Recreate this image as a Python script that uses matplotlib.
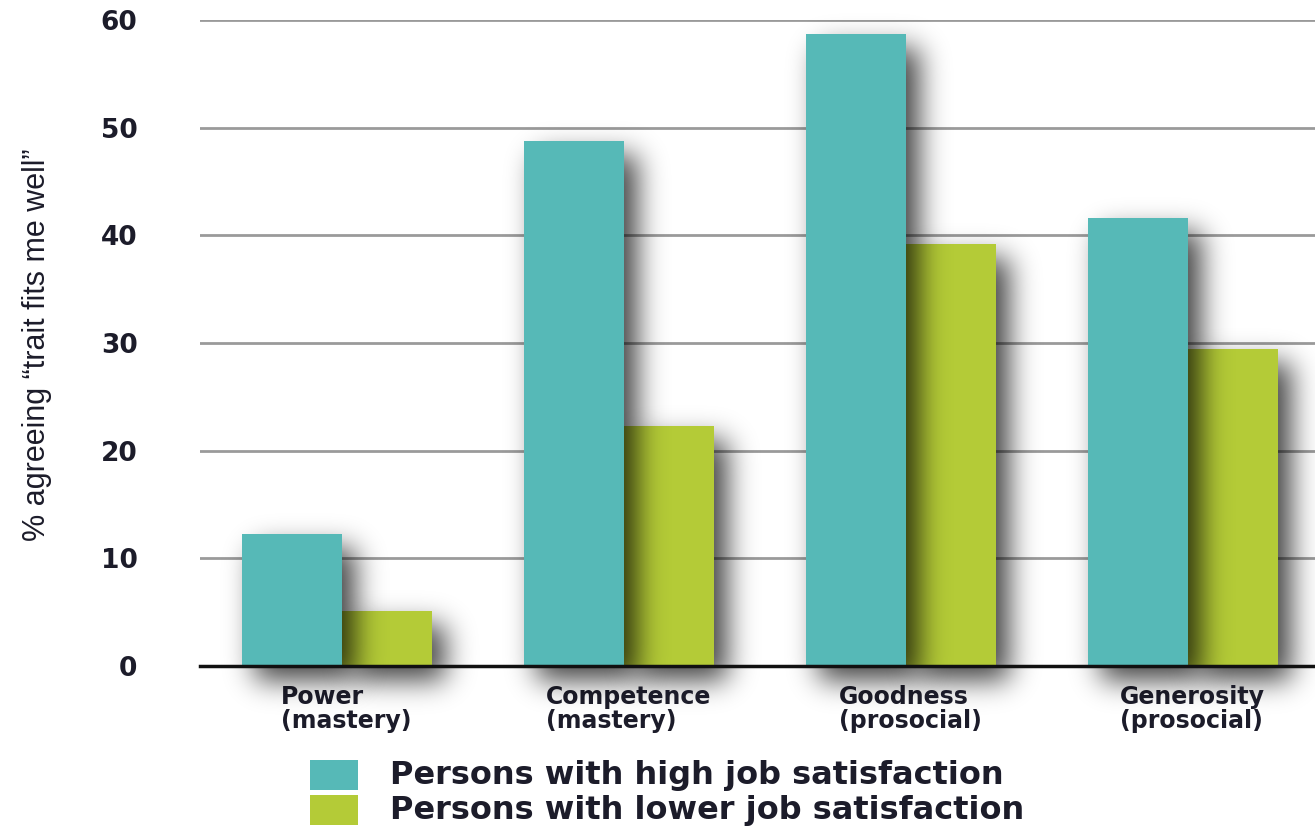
import numpy as np
import matplotlib
matplotlib.use("Agg")
import matplotlib.pyplot as plt
from matplotlib.patches import Rectangle

categories = ["Power\n(mastery)", "Competence\n(mastery)", "Goodness\n(prosocial)", "Generosity\n(prosocial)"]
high_sat = [12.3, 48.8, 58.7, 41.6]
low_sat = [5.1, 22.3, 39.2, 29.4]
series_names = ["Persons with high job satisfaction", "Persons with lower job satisfaction"]
yticks = [0, 10, 20, 30, 40, 50, 60]

TEAL = "#56B9B7"
GREEN = "#B4CB37"
TXT = "#1c1c2a"
colors = [TEAL, GREEN]

W, H = 1315, 827
fig = plt.figure(figsize=(W / 100, H / 100), dpi=100)
AX_L, AX_B, AX_T = 200, 666, 20
ax = fig.add_axes([AX_L / W, 1 - AX_B / H, 1 - AX_L / W, (AX_B - AX_T) / H])

x = np.arange(len(categories))
wt = 100 / 282
wg = 90 / 282
XLIM = (-42 / 282, (1315 - 242) / 282)
YLIM = (0, 60)
px = 1 / 282            # one pixel in x data units
py = 60 / (AX_B - AX_T)  # one pixel in y data units


def gauss_blur(a, sigma):
    r = int(3 * sigma)
    k = np.exp(-0.5 * (np.arange(-r, r + 1) / sigma) ** 2)
    k /= k.sum()
    a = np.apply_along_axis(lambda m: np.convolve(m, k, mode="same"), 1, a)
    a = np.apply_along_axis(lambda m: np.convolve(m, k, mode="same"), 0, a)
    return a


def shadow(xl, w, vals, z, dx=13, dy=14, sigma=14, strength=0.75):
    y0, y1 = -60 * py, YLIM[1] + 12 * py
    nx = int(round((XLIM[1] - XLIM[0]) / px))
    ny = int(round((y1 - y0) / py))
    xs = XLIM[0] + (np.arange(nx) + 0.5) * px
    ys = y0 + (np.arange(ny) + 0.5) * py
    X, Y = np.meshgrid(xs, ys)
    m = np.zeros_like(X)
    for l, v in zip(xl, vals):
        sel = (X >= l + dx * px) & (X <= l + w + dx * px) & (Y >= -dy * py) & (Y <= v - dy * py)
        m[sel] = 1.0
    m = gauss_blur(m, sigma)
    rgba = np.zeros((ny, nx, 4))
    rgba[..., 3] = np.clip(m * strength, 0, 1)
    im = ax.imshow(rgba, extent=[XLIM[0], XLIM[1], y0, y1], origin="lower",
                   aspect="auto", interpolation="bilinear", zorder=z)
    im.set_clip_on(False)


# gridlines
for t in yticks[1:]:
    ax.axhline(t, color="#9a9a9a", lw=2, zorder=0.5)

shadow(x + wt, wg, low_sat, 1)
ax.bar(x + wt, low_sat, width=wg, align="edge", color=GREEN, linewidth=0, zorder=2)
shadow(x, wt, high_sat, 3)
ax.bar(x, high_sat, width=wt, align="edge", color=TEAL, linewidth=0, zorder=4)

ax.axhline(0, color="#111111", lw=2.5, zorder=5, clip_on=False)

ax.set_xlim(*XLIM)
ax.set_ylim(*YLIM)
for s in ax.spines.values():
    s.set_visible(False)

ax.set_yticks(yticks)
ax.set_yticklabels([str(t) for t in yticks], fontsize=19, fontweight="bold", color=TXT)
ax.tick_params(axis="y", length=0, pad=45)

ax.set_xticks(x + 0.37)
ax.set_xticklabels(categories, fontsize=17, fontweight="bold", color=TXT, linespacing=1.0)
for lbl in ax.get_xticklabels():
    lbl.set_multialignment("left")
ax.tick_params(axis="x", length=0, pad=14)

fig.text(37 / W, 1 - 345 / H, "% agreeing \u201ctrait fits me well\u201d", rotation=90,
         ha="center", va="center", fontsize=22, color=TXT,
         family=["Liberation Sans Narrow", "Liberation Sans", "DejaVu Sans"])

# legend
for i, (name, c) in enumerate(zip(series_names, colors)):
    top = 760 + 35 * i
    fig.patches.append(Rectangle((310 / W, 1 - (top + 30) / H), 48 / W, 30 / H,
                                 transform=fig.transFigure, facecolor=c, edgecolor="none"))
    fig.text(390 / W, 1 - (top + 12) / H, name, ha="left", va="center_baseline",
             fontsize=23, fontweight="bold", color=TXT)

fig.savefig("out.png", dpi=100)
